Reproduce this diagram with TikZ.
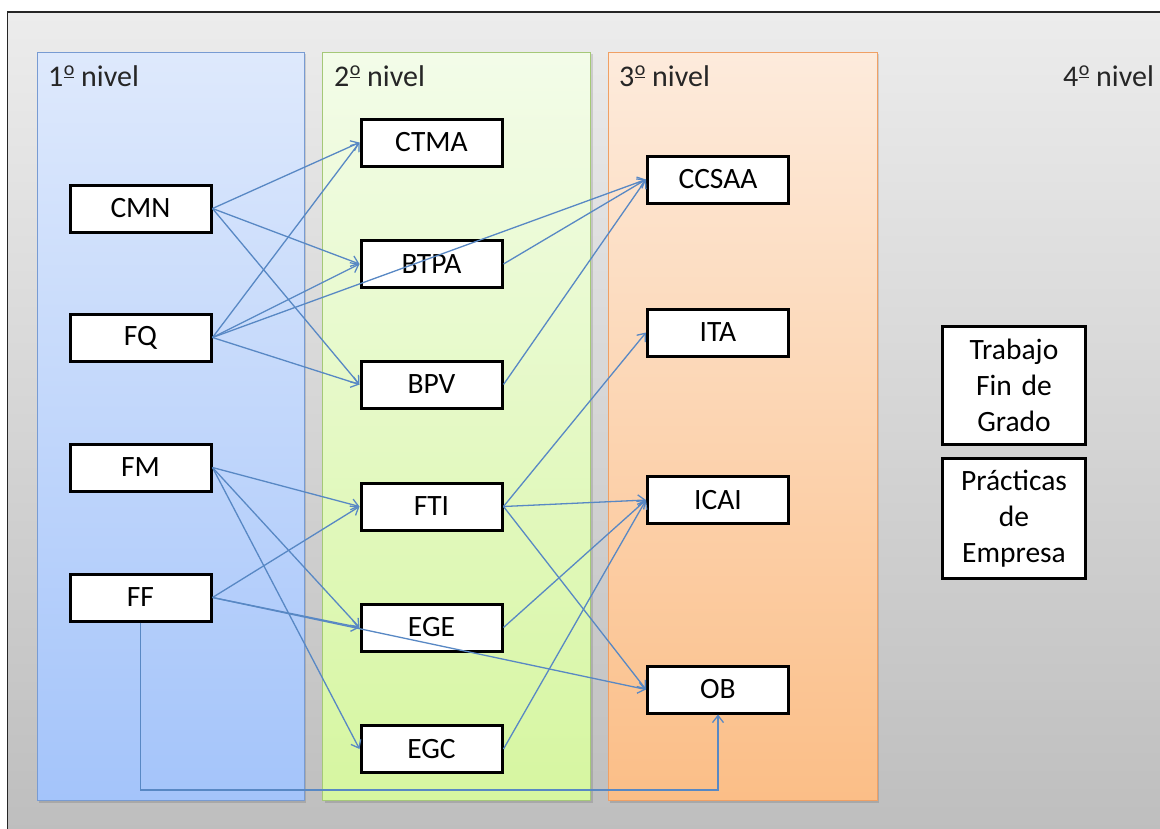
\documentclass[tikz,border=0pt]{standalone}
\usepackage{fontspec}
\setmainfont{Carlito}
\usetikzlibrary{arrows.meta}
\definecolor{bgtop}{RGB}{236,236,236}
\definecolor{bgbot}{RGB}{190,190,190}
\definecolor{bluetop}{RGB}{222,233,252}
\definecolor{bluebot}{RGB}{164,196,250}
\definecolor{blueln}{RGB}{120,155,210}
\definecolor{greentop}{RGB}{243,252,233}
\definecolor{greenbot}{RGB}{214,246,160}
\definecolor{greenln}{RGB}{165,200,120}
\definecolor{orgtop}{RGB}{253,235,220}
\definecolor{orgbot}{RGB}{251,190,135}
\definecolor{orgln}{RGB}{240,160,100}
\definecolor{arrowc}{RGB}{88,136,196}
\newcommand{\myord}{\kern0.5pt\raisebox{0.36em}{\fontsize{20}{20}\selectfont\underline{o}}}
\tikzset{
  box/.style={draw=black, line width=3pt, fill=white, minimum width=141pt, minimum height=47pt, inner sep=0pt, font=\fontsize{29.5}{36}\selectfont, align=center},
  bigbox/.style={box, minimum width=143pt, text width=140pt},
  arr/.style={draw=arrowc, line width=1.3pt, -{Straight Barb[length=7pt,width=11pt,line width=1.3pt]}},
  lbl/.style={anchor=base west, inner sep=0pt, font=\fontsize{30}{36}\selectfont, text=black!85},
  panelshadow/.style={fill=black, opacity=0.12}
}
\begin{document}
\begin{tikzpicture}[x=1pt,y=-1pt]
\useasboundingbox (0,0) rectangle (1160,828);
\fill[white] (0,0) rectangle (1160,828);
\shade[top color=bgtop, bottom color=bgbot] (7.5,12) rectangle (1165,833);
\draw[black!85, line width=1.5pt] (7.5,833) -- (7.5,12) -- (1165,12);
% panels
\fill[panelshadow] (39,54) rectangle (306,803);
\fill[panelshadow] (325,54) rectangle (593,803);
\fill[panelshadow] (610,54) rectangle (879,803);
\shade[top color=bluetop, bottom color=bluebot] (37,52) rectangle (304,800);
\shade[top color=greentop, bottom color=greenbot] (322.5,52) rectangle (590,800);
\shade[top color=orgtop, bottom color=orgbot] (608,52) rectangle (877,800);
\draw[blueln, line width=1pt] (37,52) rectangle (304,800);
\draw[greenln, line width=1pt] (322.5,52) rectangle (590,800);
\draw[orgln, line width=1pt] (608,52) rectangle (877,800);
% labels
\node[lbl] (l1) at (48,86) {1\myord\ nivel};
\node[lbl] (l2) at (334,86) {2\myord\ nivel};
\node[lbl] (l3) at (619,86) {3\myord\ nivel};
\node[lbl] (l4) at (1063,86) {4\myord\ nivel};
% boxes
\node[box] (CMN) at (140.5,208.5) {CMN};
\node[box] (FQ) at (140.5,337.5) {FQ};
\node[box] (FM) at (140.5,467.5) {FM};
\node[box] (FF) at (140.5,597.5) {FF};
\node[box] (CTMA) at (431.5,142.5) {CTMA};
\node[box] (BTPA) at (431.5,264) {BTPA};
\node[box] (BPV) at (431.5,384.5) {BPV};
\node[box] (FTI) at (431.5,506.5) {FTI};
\node[box] (EGE) at (431.5,627.5) {EGE};
\node[box] (EGC) at (431.5,749) {EGC};
\node[box] (CCSAA) at (718,179.5) {CCSAA};
\node[box] (ITA) at (718,332.5) {ITA};
\node[box] (ICAI) at (718,500) {ICAI};
\node[box] (OB) at (718,689.5) {OB};
\node[bigbox, minimum height=118pt] (TFG) at (1014,385.5) {Trabajo\\Fin de\\Grado};
\node[bigbox, minimum height=120pt] (PE) at (1014,518.5) {Prácticas\\de\\Empresa};
% arrows
\draw[arr] (CMN.east) -- (CTMA.west);
\draw[arr] (CMN.east) -- (BTPA.west);
\draw[arr] (CMN.east) -- (BPV.west);
\draw[arr] (FQ.east) -- (CTMA.west);
\draw[arr] (FQ.east) -- (BTPA.west);
\draw[arr] (FQ.east) -- (CCSAA.west);
\draw[arr] (FQ.east) -- (BPV.west);
\draw[arr] (BTPA.east) -- (CCSAA.west);
\draw[arr] (BPV.east) -- (CCSAA.west);
\draw[arr] (FM.east) -- (FTI.west);
\draw[arr] (FM.east) -- (EGE.west);
\draw[arr] (FM.east) -- (EGC.west);
\draw[arr] (FF.east) -- (FTI.west);
\draw[arr] (FF.east) -- (EGE.west);
\draw[arr] (FF.east) -- (OB.west);
\draw[arr] (FTI.east) -- (ITA.west);
\draw[arr] (FTI.east) -- (ICAI.west);
\draw[arr] (FTI.east) -- (OB.west);
\draw[arr] (EGE.east) -- (ICAI.west);
\draw[arr] (EGC.east) -- (ICAI.west);
\coordinate (low) at (0,790);
\draw[arr] (FF.south) -- (FF.south |- low) -| (OB.south);
\end{tikzpicture}
\end{document}
